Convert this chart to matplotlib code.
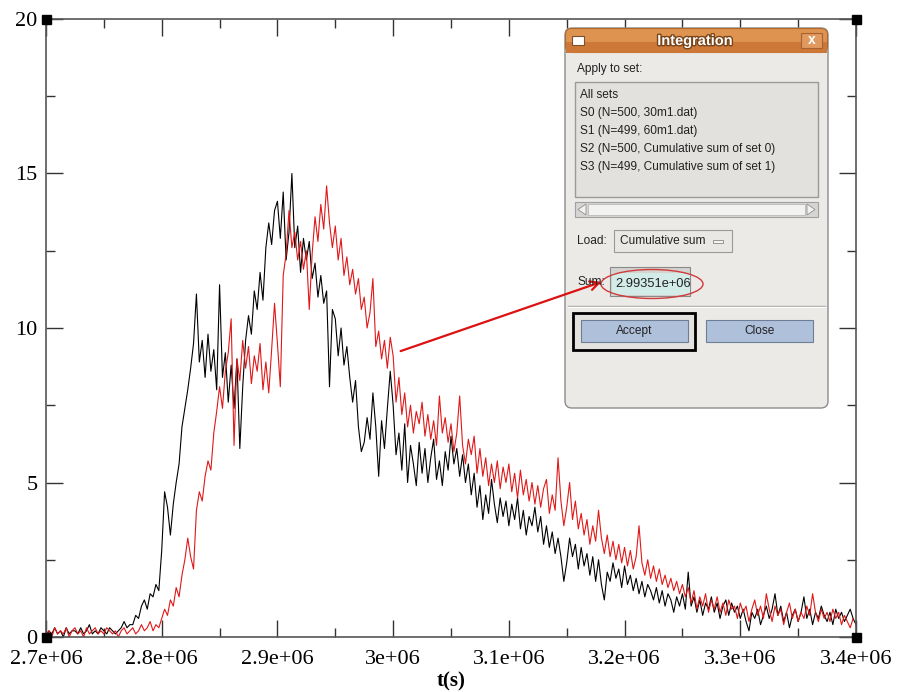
import numpy as np
import matplotlib
matplotlib.use('Agg')
import matplotlib.pyplot as plt
import matplotlib.patheffects as pe
from matplotlib.patches import Rectangle, FancyBboxPatch, Ellipse, Polygon

# sampling of the two sets (seconds)
t_start = 2.7e6
t_step = 2500.0

# set S0 (black)
s0 = [0.0, 0.2, 0.1, 0.3, 0.1, 0.2, 0.0, 0.3, 0.1, 0.2,
      0.2, 0.1, 0.3, 0.1, 0.2, 0.4, 0.1, 0.2, 0.1, 0.3,
      0.2, 0.1, 0.3, 0.2, 0.1, 0.2, 0.3, 0.5, 0.3, 0.4,
      0.4, 0.7, 0.6, 1.0, 1.2, 0.9, 1.4, 1.3, 1.7, 1.5,
      2.8, 4.7, 4.2, 3.3, 4.3, 5.0, 5.6, 6.8, 7.4, 8.0,
      8.7, 9.5, 11.1, 8.9, 9.6, 8.4, 9.8, 8.6, 9.3, 8.0,
      11.4, 8.4, 9.2, 7.6, 8.8, 7.4, 9.0, 6.1, 8.1, 9.6,
      10.4, 9.8, 11.2, 10.6, 11.8, 10.9, 12.6, 13.4, 12.7, 13.8,
      14.1, 12.9, 14.4, 12.2, 13.1, 15.0, 12.6, 13.3, 11.8, 12.9,
      12.2, 12.8, 11.6, 12.1, 11.0, 11.7, 10.8, 11.2, 8.1, 10.6,
      10.3, 9.1, 10.0, 8.8, 9.4, 8.4, 7.6, 8.3, 6.8, 6.0,
      6.3, 7.1, 6.4, 7.9, 6.8, 5.2, 7.0, 6.1, 7.4, 8.6,
      7.5, 5.9, 6.6, 5.4, 6.9, 5.0, 6.2, 5.6, 4.9, 6.3,
      5.3, 6.1, 5.0, 5.8, 6.4, 5.1, 5.7, 4.9, 6.0, 5.4,
      6.5, 5.6, 6.1, 5.2, 5.9, 5.0, 5.6, 4.6, 5.3, 4.2,
      4.9, 3.8, 4.6, 4.0, 5.1, 4.3, 3.7, 4.5, 3.9, 4.4,
      3.6, 4.3, 3.8, 4.5, 3.5, 4.1, 3.3, 3.9, 3.6, 4.2,
      3.4, 3.9, 3.0, 3.6, 2.9, 3.4, 2.7, 3.2, 2.6, 1.8,
      2.4, 3.2, 2.6, 3.0, 2.2, 2.9, 2.3, 2.7, 2.0, 2.6,
      1.8, 2.5, 1.7, 1.2, 2.1, 1.8, 2.4, 1.9, 2.2, 1.6,
      2.3, 1.7, 2.0, 1.5, 1.9, 1.4, 1.8, 1.3, 1.7, 1.5,
      1.2, 1.6, 1.1, 1.5, 1.0, 1.4, 1.2, 0.8, 1.3, 1.0,
      1.4, 0.9, 2.1, 1.0, 1.3, 0.8, 1.2, 0.7, 1.1, 0.9,
      1.3, 0.8, 1.1, 0.6, 1.0, 1.2, 0.7, 1.1, 0.8, 1.0,
      0.6, 0.9, 0.5, 0.2, 0.8, 0.6, 0.9, 0.4, 0.7, 1.0,
      0.6, 0.9, 1.4, 0.7, 1.0, 0.5, 0.8, 0.3, 0.7, 0.9,
      0.5, 0.8, 1.3, 0.6, 0.9, 0.4, 0.8, 0.6, 1.0, 0.7,
      0.5, 0.8, 0.4, 0.9, 0.6, 0.8, 0.5, 0.7, 0.9, 0.6,
      0.4]

# set S1 (red)
s1 = [0.1, 0.2, 0.0, 0.3, 0.1, 0.2, 0.1, 0.3, 0.0, 0.2,
      0.3, 0.1, 0.2, 0.0, 0.3, 0.1, 0.2, 0.3, 0.1, 0.2,
      0.1, 0.3, 0.2, 0.1, 0.2, 0.0, 0.2, 0.3, 0.1, 0.2,
      0.3, 0.1, 0.2, 0.4, 0.2, 0.3, 0.5, 0.2, 0.4, 0.3,
      0.6, 0.9, 0.7, 1.2, 1.0, 1.6, 1.3, 2.0, 2.5, 3.2,
      2.6, 2.2, 4.1, 4.7, 4.4, 5.2, 5.7, 5.4, 6.6, 7.3,
      8.1, 7.4, 8.6, 9.2, 10.3, 6.2, 9.0, 8.3, 9.6, 8.7,
      9.4, 8.2, 9.1, 8.6, 9.5, 8.0, 8.9, 7.9, 9.3, 10.8,
      9.5, 8.1, 11.7, 12.4, 13.8, 12.6, 13.1, 12.2, 12.8, 11.9,
      12.5, 10.6, 12.4, 13.6, 12.8, 14.0, 13.2, 14.6, 13.4, 12.6,
      13.3, 12.2, 12.9, 11.7, 12.3, 11.4, 11.9, 11.1, 11.6, 10.6,
      11.0, 10.0, 10.5, 11.6, 9.4, 9.9, 9.0, 9.6, 8.7, 9.7,
      9.1, 7.6, 8.4, 7.2, 7.9, 6.8, 7.5, 6.6, 7.3, 6.9,
      7.6, 6.5, 7.2, 6.4, 7.0, 6.2, 7.8, 6.6, 7.1, 6.3,
      6.9, 6.0, 6.6, 7.8, 6.2, 5.6, 6.4, 5.9, 6.5, 5.3,
      6.1, 5.2, 5.8, 4.9, 5.6, 5.0, 5.7, 4.8, 5.5, 5.0,
      5.6, 4.7, 5.3, 4.5, 5.4, 4.6, 5.1, 4.4, 5.0, 4.3,
      4.9, 4.2, 4.8, 5.1, 4.0, 4.6, 4.1, 5.8, 4.4, 3.6,
      4.2, 5.0, 3.8, 4.4, 3.5, 4.0, 3.3, 3.8, 3.0, 3.6,
      3.1, 4.1, 3.2, 2.7, 3.3, 2.6, 3.1, 2.5, 3.0, 2.4,
      2.9, 2.3, 2.8, 2.2, 2.6, 3.6, 2.4, 2.0, 2.5, 1.9,
      2.3, 1.8, 2.2, 1.7, 2.0, 1.6, 1.9, 1.5, 1.8, 1.4,
      1.7, 1.3, 1.6, 1.1, 1.5, 0.9, 1.3, 1.0, 1.4, 0.8,
      1.2, 0.9, 1.3, 0.8, 1.1, 0.7, 1.2, 0.9, 1.0, 0.6,
      1.1, 0.8, 1.0, 0.5, 0.9, 1.2, 0.7, 1.0, 0.6, 1.4,
      0.9, 0.5, 1.0, 0.7, 0.9, 0.4, 0.8, 1.1, 0.6, 0.9,
      0.5, 0.8, 0.6, 1.0, 0.7, 1.4, 0.8, 0.5, 0.9, 0.6,
      0.8, 0.5, 0.9, 0.6, 0.8, 0.4, 0.7, 0.5, 0.3, 0.6]

x_major = [2.7e6, 2.8e6, 2.9e6, 3.0e6, 3.1e6, 3.2e6, 3.3e6, 3.4e6]
x_labels = ['2.7e+06', '2.8e+06', '2.9e+06', '3e+06', '3.1e+06',
            '3.2e+06', '3.3e+06', '3.4e+06']
y_major = [0, 5, 10, 15, 20]

set_items = ['All sets',
             'S0 (N=500, 30m1.dat)',
             'S1 (N=499, 60m1.dat)',
             'S2 (N=500, Cumulative sum of set 0)',
             'S3 (N=499, Cumulative sum of set 1)']
sum_text = '2.99351e+06'

W, H = 899, 692
fig = plt.figure(figsize=(W / 100, H / 100), dpi=100)
fig.patch.set_facecolor('white')

# plot area in pixels: x 46..856, y 19..637
ax = fig.add_axes([46 / W, 1 - 637 / H, 810 / W, 618 / H])
t0 = t_start + t_step * np.arange(len(s0))
t1 = t_start + t_step * np.arange(len(s1))
ax.plot(t0, s0, color='black', lw=0.8)
ax.plot(t1, s1, color='#e01818', lw=0.8)

ax.set_xlim(2.7e6, 3.4e6)
ax.set_ylim(0, 20)
ax.set_xticks(x_major)
ax.set_xticklabels(x_labels)
ax.set_xticks([v + 0.05e6 for v in x_major[:-1]], minor=True)
ax.set_yticks(y_major)
ax.set_yticklabels([str(v) for v in y_major])
ax.set_yticks([v + 2.5 for v in y_major[:-1]], minor=True)
ax.tick_params(which='both', direction='in', top=True, right=True,
               colors='#333333', width=1)
ax.tick_params(which='major', length=12)
ax.tick_params(which='minor', length=6.5)
ax.tick_params(axis='x', pad=9)
ax.tick_params(axis='y', pad=6)
for lab in ax.get_xticklabels() + ax.get_yticklabels():
    lab.set_family('Liberation Serif')
    lab.set_fontsize(16)
    lab.set_color('black')
for sp in ax.spines.values():
    sp.set_color('#555555')
    sp.set_linewidth(1.2)
ax.set_xlabel('t(s)', family='Liberation Serif', fontsize=15,
              fontweight='bold', labelpad=2)

# overlay in pixel coordinates for the GUI bits
ov = fig.add_axes([0, 0, 1, 1], zorder=5)
ov.set_xlim(0, W)
ov.set_ylim(H, 0)
ov.axis('off')
ov.patch.set_visible(False)

# selection handles at the corners of the graph
for cx, cy in [(46, 19), (856, 19), (46, 637), (856, 637)]:
    ov.add_patch(Rectangle((cx - 4, cy - 4), 9, 9, color='black'))

# arrow from the curve to the Sum field
ov.annotate('', xy=(604, 281), xytext=(398, 352),
            arrowprops=dict(arrowstyle='->', color='#dd1111', lw=1.6,
                            mutation_scale=16))

# dialog window
ui_font = 'Liberation Sans'
fs = 8.6
ov.add_patch(FancyBboxPatch((565, 28), 263, 380,
                            boxstyle='round,pad=0,rounding_size=7',
                            fc='#ebeae7', ec='#8c8c8c', lw=1))
ov.add_patch(FancyBboxPatch((565.5, 28.5), 262, 24,
                            boxstyle='round,pad=0,rounding_size=6',
                            fc='#de9450', ec='#b06a30', lw=0.8))
ov.add_patch(Rectangle((566, 42), 261, 11, fc='#cd7836', ec='none'))
ov.text(695, 41, 'Integration', ha='center', va='center', color='white',
        fontsize=10.5, fontweight='bold', family=ui_font,
        path_effects=[pe.withStroke(linewidth=2, foreground='#7a4418')])
ov.add_patch(Rectangle((572, 36), 12, 9, fc='white', ec='#7a5030', lw=0.8))
ov.add_patch(Rectangle((801, 33), 21, 15, fc='#e09a60', ec='#a86030', lw=0.8))
ov.text(811.5, 40.5, 'x', ha='center', va='center', color='white',
        fontsize=10, fontweight='bold', family=ui_font)

ov.text(577, 69, 'Apply to set:', va='center', fontsize=fs, color='#222222',
        family=ui_font)
ov.add_patch(Rectangle((575, 82), 243, 115, fc='#e2e1de', ec='#9a9a9a', lw=1))
for k, item in enumerate(set_items):
    ov.text(580, 95 + 18 * k, item, va='center', fontsize=fs, color='#222222',
            family=ui_font)

# scrollbar
ov.add_patch(Rectangle((575, 202), 243, 15, fc='#d6d5d2', ec='#a0a0a0', lw=0.8))
ov.add_patch(Rectangle((588, 204), 217, 11, fc='#f2f2f0', ec='#b8b8b8', lw=0.6))
ov.add_patch(Polygon([(586, 204), (586, 215), (578, 209.5)], closed=True,
                     fc='#f2f2f0', ec='#909090', lw=0.6))
ov.add_patch(Polygon([(807, 204), (807, 215), (815, 209.5)], closed=True,
                     fc='#f2f2f0', ec='#909090', lw=0.6))

# Load row
ov.text(577, 241, 'Load:', va='center', fontsize=fs, color='#222222',
        family=ui_font)
ov.add_patch(Rectangle((614, 230), 118, 22, fc='#e9e8e5', ec='#9a9a9a', lw=0.8))
ov.text(620, 241, 'Cumulative sum', va='center', fontsize=fs, color='#222222',
        family=ui_font)
ov.add_patch(Rectangle((713, 240), 10, 3, fc='#f4f4f4', ec='#888888', lw=0.6))

# Sum row
ov.text(577, 282, 'Sum:', va='center', fontsize=fs, color='#222222',
        family=ui_font)
ov.add_patch(Rectangle((610, 267), 80, 29, fc='#d4d3d0', ec='#8a8a8a', lw=0.8))
ov.add_patch(Rectangle((612, 273), 78, 22, fc='#d3ece8', ec='none'))
sum_clip = Rectangle((612, 270), 73, 26, transform=ov.transData)
sum_txt = ov.text(615, 284, sum_text, va='center', fontsize=9.3,
                  color='#222222', family=ui_font)
sum_txt.set_clip_path(sum_clip)
ov.add_patch(Ellipse((652, 284), 102, 29, fc='none', ec='#d23a3a', lw=1))

ov.plot([568, 825], [306, 306], color='#b0b0b0', lw=1)
ov.plot([568, 825], [307, 307], color='white', lw=0.8)

# buttons
ov.add_patch(Rectangle((573, 313), 122, 37, fc='#e3e2df', ec='black', lw=2))
ov.add_patch(Rectangle((581, 320), 107, 22, fc='#aec0da', ec='#6e7e96', lw=0.8))
ov.text(634.5, 331, 'Accept', ha='center', va='center', fontsize=fs,
        color='#222222', family=ui_font)
ov.add_patch(Rectangle((706, 320), 107, 22, fc='#aec0da', ec='#6e7e96', lw=0.8))
ov.text(759.5, 331, 'Close', ha='center', va='center', fontsize=fs,
        color='#222222', family=ui_font)

fig.savefig('out.png', dpi=100)
